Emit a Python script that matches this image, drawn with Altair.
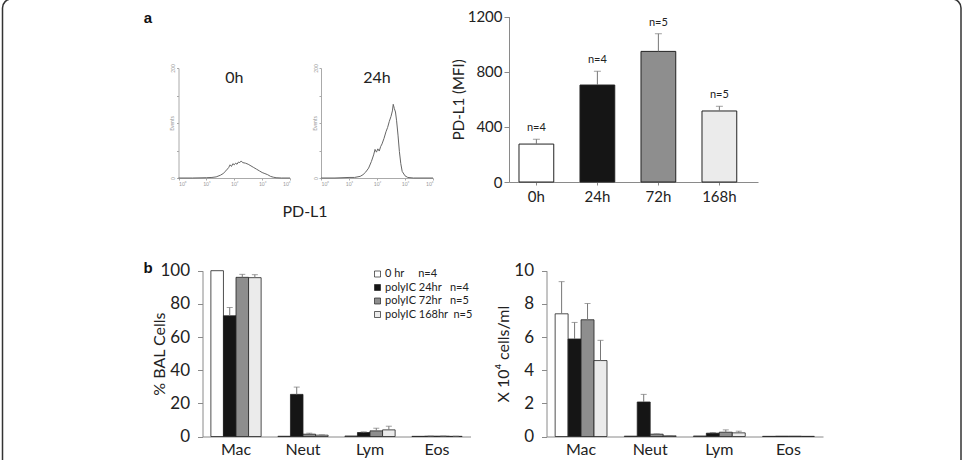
import altair as alt
import pandas as pd

# ---------------- data ----------------
# flow cytometry histograms (log10 intensity, events)
hist_0h_log = [0.0, 0.5, 1.0, 1.2, 1.35, 1.5, 1.6, 1.7, 1.8, 1.85, 1.9, 1.95, 2.0, 2.05, 2.1,
               2.15, 2.2, 2.25, 2.3, 2.4, 2.5, 2.6, 2.7, 2.8, 2.9, 3.0, 3.1, 3.2, 3.3, 3.4,
               3.5, 3.7, 4.0]
hist_0h_count = [0, 0, 0.5, 1, 2, 5, 8, 13, 19, 24, 21, 26, 24, 27, 25,
                 29, 28, 31, 28, 27, 25, 22, 19, 16, 13, 10, 8, 6, 3, 1.5,
                 0.5, 0, 0]
hist_24h_log = [0.0, 0.5, 1.0, 1.2, 1.4, 1.5, 1.6, 1.7, 1.8, 1.88, 1.93, 1.98, 2.03, 2.08,
                2.13, 2.18, 2.25, 2.32, 2.38, 2.44, 2.5, 2.55, 2.58, 2.62, 2.66, 2.7, 2.75,
                2.8, 2.85, 2.9, 3.0, 3.1, 3.3, 4.0]
hist_24h_count = [0, 0, 1, 1, 3, 6, 11, 18, 30, 42, 52, 47, 53, 49,
                  57, 62, 72, 84, 92, 103, 112, 122, 134, 126, 120, 104, 78,
                  48, 26, 12, 4, 1, 0, 0]

# panel a bar chart
times_a = ["0h", "24h", "72h", "168h"]
mfi_mean = [275, 703, 947, 515]
mfi_err = [35, 100, 128, 34]
mfi_n = ["n=4", "n=4", "n=5", "n=5"]

# panel b
cell_types = ["Mac", "Neut", "Lym", "Eos"]
series_b = ["0 hr", "polyIC 24hr", "polyIC 72hr", "polyIC 168hr"]
series_n = ["n=4", "n=4", "n=5", "n=5"]
pct_mean = [[100, 0.15, 0.3, 0.1],
            [72.8, 25.4, 2.4, 0.2],
            [96.0, 1.4, 3.4, 0.2],
            [95.8, 0.8, 4.0, 0.1]]
pct_err = [[0, 0, 0, 0],
           [5.0, 4.4, 0.4, 0.1],
           [1.8, 0.6, 1.6, 0.1],
           [1.8, 0.2, 2.2, 0.1]]
cnt_mean = [[7.4, 0.02, 0.03, 0.01],
            [5.88, 2.08, 0.2, 0.02],
            [7.04, 0.14, 0.26, 0.02],
            [4.58, 0.04, 0.22, 0.01]]
cnt_err = [[1.94, 0, 0, 0],
           [1.0, 0.46, 0.04, 0],
           [0.98, 0.02, 0.14, 0],
           [1.22, 0.01, 0.1, 0]]

# ---------------- layout / style ----------------
W, H = 963, 460
FONT = "Lato"
TXT = "#222222"
AX = "#8a8a8a"
NB = "\u00a0"
legend_labels = [
    s + NB * g + n for s, n, g in zip(series_b, series_n, [5, 3, 3, 2])
]
fill_a = ["#ffffff", "#151515", "#8e8e8e", "#ebebeb"]
fill_b = ["#ffffff", "#151515", "#8e8e8e", "#ebebeb"]

# ---------------- histograms ----------------
HY0, HY1 = 178, 68
sup = "['\u2070','\u00b9','\u00b2','\u00b3','\u2074'][datum.value]"


def histogram(logs, counts, label, x0, x1):
    df = pd.DataFrame({"logI": logs, "events": counts})
    xs = alt.X("logI:Q",
               scale=alt.Scale(domain=[0, 4], range=[x0, x1], nice=False, zero=False),
               axis=alt.Axis(orient="bottom", offset=HY0 - H, values=[0, 1, 2, 3, 4],
                             labelExpr="'10' + " + sup, title=None, grid=False,
                             labelFontSize=5, labelColor="#999", tickSize=2,
                             labelPadding=1, domainColor="#aaa", tickColor="#aaa"))
    ys = alt.Y("events:Q",
               scale=alt.Scale(domain=[0, 200], range=[HY0, HY1], nice=False),
               axis=alt.Axis(orient="left", offset=-x0, values=[0, 50, 100, 150, 200],
                             labelExpr="datum.value == 0 || datum.value == 200 ? datum.label : ''",
                             title="Events", titleFontSize=5, titleColor="#999",
                             titleFontWeight="normal", titleX=-7, titleBaseline="middle",
                             labelFontSize=5, labelColor="#999", labelAngle=270,
                             labelAlign="center", labelBaseline="bottom",
                             tickSize=2, labelPadding=1, grid=False,
                             domainColor="#aaa", tickColor="#aaa"))
    line = alt.Chart(df).mark_line(color="#666666", strokeWidth=1).encode(x=xs, y=ys)
    lab = alt.Chart(pd.DataFrame({"logI": [2.0], "events": [182], "t": [label]})).mark_text(
        font=FONT, fontSize=16, color=TXT).encode(x=xs, y=ys, text="t:N")
    return alt.layer(line, lab)


hist0 = histogram(hist_0h_log, hist_0h_count, "0h", 178.5, 290)
hist24 = histogram(hist_24h_log, hist_24h_count, "24h", 321, 433)

# ---------------- panel a bar chart ----------------
dfA = pd.DataFrame({"time": times_a, "mfi": mfi_mean, "err": mfi_err, "n": mfi_n})
dfA["top"] = dfA["mfi"] + dfA["err"]
A_Y0, A_Y1, A_X = 182, 16.5, 509
xA = alt.X("time:N", sort=times_a,
           scale=alt.Scale(domain=times_a, range=[A_X, 758], paddingInner=0.43,
                           paddingOuter=0.256, align=0.32),
           axis=alt.Axis(orient="bottom", offset=A_Y0 - H, title=None, labelAngle=0,
                         labelFontSize=15, tickSize=3, labelPadding=4))
yAs = alt.Scale(domain=[0, 1200], range=[A_Y0, A_Y1], nice=False)
yAax = alt.Axis(orient="left", offset=-A_X, values=[0, 400, 800, 1200], format="d",
                title="PD-L1 (MFI)", titleFontSize=15, titleX=-51, titleBaseline="middle",
                labelFontSize=15, tickSize=5, labelPadding=2)
barsA = alt.Chart(dfA).mark_bar(stroke="#222", strokeWidth=1).encode(
    x=xA, y=alt.Y("mfi:Q", scale=yAs, axis=yAax),
    fill=alt.Fill("time:N", scale=alt.Scale(domain=times_a, range=fill_a), legend=None))
ruleA = alt.Chart(dfA).mark_rule(color="#777", strokeWidth=1).encode(
    x=xA, y=alt.Y("mfi:Q", scale=yAs, axis=yAax), y2="top:Q")
capA = alt.Chart(dfA).mark_tick(color="#777", size=7, thickness=1).encode(
    x=xA, y=alt.Y("top:Q", scale=yAs, axis=yAax))
textA = alt.Chart(dfA).mark_text(font=FONT, fontSize=11, color=TXT, dy=-11).encode(
    x=xA, y=alt.Y("top:Q", scale=yAs, axis=yAax), text="n:N")
panelA = alt.layer(barsA, ruleA, capA, textA)

# ---------------- panel b ----------------
rows = []
for i, lab in enumerate(legend_labels):
    for j, c in enumerate(cell_types):
        rows.append({"cell": c, "series": lab,
                     "pct": pct_mean[i][j], "pct_top": pct_mean[i][j] + pct_err[i][j],
                     "pct_err": pct_err[i][j],
                     "cnt": cnt_mean[i][j], "cnt_top": cnt_mean[i][j] + cnt_err[i][j],
                     "cnt_err": cnt_err[i][j]})
dfB = pd.DataFrame(rows)
B_Y0, B_Y1 = 436.5, 270.7


def panel_b(field, dom, ticks, x0, x1, title, legend):
    xs = alt.X("cell:N", sort=cell_types,
               scale=alt.Scale(domain=cell_types, range=[x0, x1], paddingInner=0.25,
                               paddingOuter=0.125),
               axis=alt.Axis(orient="bottom", offset=B_Y0 - H, title=None, labelAngle=0,
                             labelFontSize=16, ticks=False, labelPadding=5))
    xo = alt.XOffset("series:N", sort=legend_labels,
                     scale=alt.Scale(domain=legend_labels, paddingInner=0, paddingOuter=0))
    ysc = alt.Scale(domain=dom, range=[B_Y0, B_Y1], nice=False)
    yax = alt.Axis(orient="left", offset=-x0, values=ticks, title=title, titleFontSize=16,
                   titleX=-43, titleBaseline="middle", labelFontSize=17, tickSize=5,
                   labelPadding=8)
    bars = alt.Chart(dfB).mark_bar(stroke="#222", strokeWidth=0.8).encode(
        x=xs, xOffset=xo, y=alt.Y(field + ":Q", scale=ysc, axis=yax),
        fill=alt.Fill("series:N", sort=legend_labels,
                      scale=alt.Scale(domain=legend_labels, range=fill_b), legend=legend))
    rule = alt.Chart(dfB).mark_rule(color="#777", strokeWidth=1).encode(
        x=xs, xOffset=xo, y=alt.Y(field + ":Q", scale=ysc, axis=yax), y2=field + "_top:Q")
    cap = alt.Chart(dfB).transform_filter(alt.datum[field + "_err"] > 0).mark_tick(
        color="#777", size=6, thickness=1).encode(
        x=xs, xOffset=xo, y=alt.Y(field + "_top:Q", scale=ysc, axis=yax))
    return alt.layer(bars, rule, cap)


legB = alt.Legend(orient="none", legendX=372, legendY=268.5, title=None, symbolType="square",
                  symbolSize=36, symbolStrokeColor="#222", symbolStrokeWidth=0.7,
                  labelFont=FONT, labelFontSize=11, labelColor=TXT, rowPadding=1.5,
                  labelOffset=2, padding=0)
panelB1 = panel_b("pct", [0, 100], [0, 20, 40, 60, 80, 100], 202.5, 470.5,
                  "% BAL Cells", legB)
panelB2 = panel_b("cnt", [0, 10], [0, 2, 4, 6, 8, 10], 546.5, 823,
                  "X 10\u2074 cells/ml", None)

# ---------------- annotations & frame ----------------
one = alt.Data(values=[{}])
frame = alt.Chart(one).mark_rect(fillOpacity=0, stroke="#333", strokeWidth=1.5,
                                 cornerRadius=9).encode(
    x=alt.value(2.5), x2=alt.value(961), y=alt.value(-1), y2=alt.value(520))
lab_a = alt.Chart(one).mark_text(text="a", font="Liberation Sans", fontWeight="bold",
                                 fontSize=15, color="#111").encode(
    x=alt.value(148), y=alt.value(18))
lab_b = alt.Chart(one).mark_text(text="b", font="Liberation Sans", fontWeight="bold",
                                 fontSize=15, color="#111").encode(
    x=alt.value(148), y=alt.value(268))
lab_pd = alt.Chart(one).mark_text(text="PD-L1", font=FONT, fontSize=16, color=TXT).encode(
    x=alt.value(305), y=alt.value(212))

chart = alt.layer(frame, hist0, hist24, panelA, panelB1, panelB2, lab_a, lab_b, lab_pd
                  ).resolve_scale(x="independent", y="independent", fill="independent",
                                  xOffset="independent"
                  ).properties(width=W, height=H, padding=0,
                               autosize=alt.AutoSizeParams(type="none")
                  ).configure_view(stroke="transparent"
                  ).configure_axis(labelFont=FONT, titleFont=FONT, labelColor=TXT,
                                   titleColor=TXT, titleFontWeight="normal",
                                   domainColor=AX, tickColor=AX, grid=False)

chart.save("out.html", embed_options={"renderer": "svg", "actions": False})
